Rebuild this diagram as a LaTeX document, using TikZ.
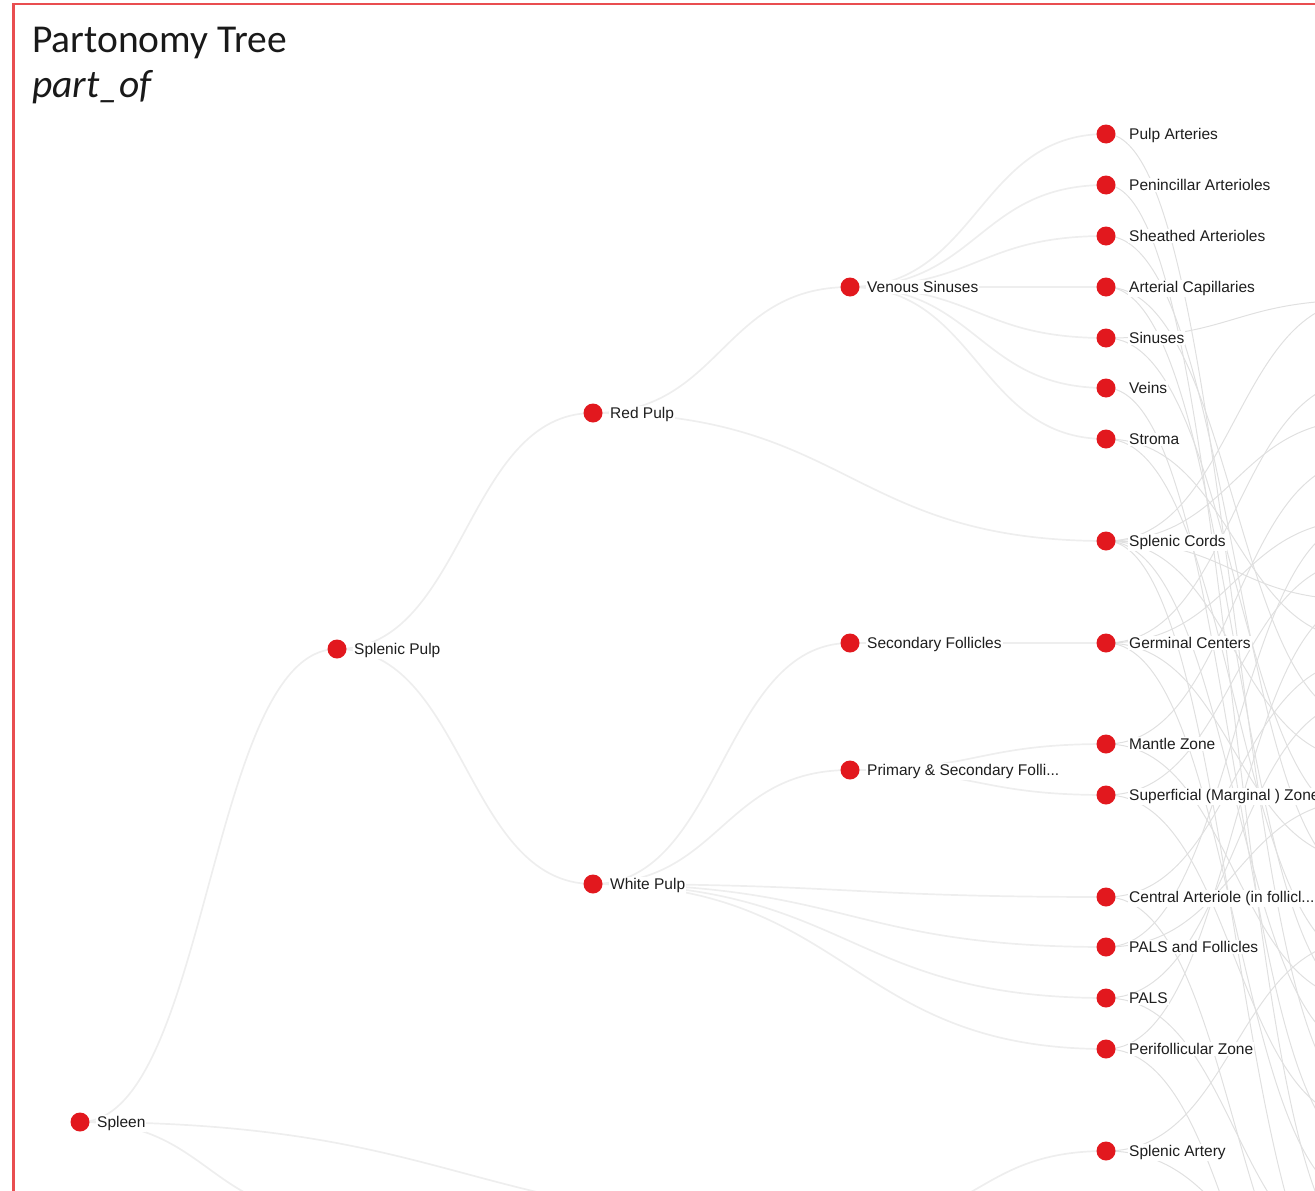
\documentclass[tikz,border=0pt]{standalone}
\usepackage{fontspec}
\setmainfont{Liberation Sans}
\newfontfamily\titlefont{Carlito}
\usetikzlibrary{calc,backgrounds}
\definecolor{nodered}{RGB}{226,24,30}
\definecolor{framered}{RGB}{233,78,80}
\definecolor{edgegray}{RGB}{238,238,238}
\definecolor{meshgray}{RGB}{224,224,224}
\definecolor{labgray}{RGB}{30,30,30}
\newcommand\lnk[3][edge]{\draw[#1] let \p1=(#2), \p2=(#3) in (\p1) .. controls ({(\x1+\x2)/2},\y1) and ({(\x1+\x2)/2},\y2) .. (\p2);}
\begin{document}
\begin{tikzpicture}[x=1pt,y=-1pt,
  dot/.style={circle,fill=nodered,inner sep=0pt,minimum size=19pt},
  lab/.style={anchor=base west,font=\fontsize{15.5}{18}\selectfont,text=labgray,fill=white,inner sep=1pt},
  edge/.style={draw=edgegray,line width=1.7pt},
  mesh/.style={draw=meshgray,line width=1pt},
  ttl/.style={anchor=base west,inner sep=0pt,text=black!90}]
\useasboundingbox (0,0) rectangle (1315,1191);
\clip (0,0) rectangle (1315,1191);
\draw[framered,line width=2.5pt] (13.5,1200) -- (13.5,4) -- (1330,4);

\node[ttl,font=\titlefont\fontsize{39.5}{44}\selectfont] (title) at (32,52) {Partonomy Tree};
\node[ttl,font=\titlefont\itshape\fontsize{39.5}{44}\selectfont] (sub) at (32,97) {part\_of};

% nodes
\node[dot] (SPL) at (80,1122) {};
\node[dot] (SP) at (337,649) {};
\node[dot] (RP) at (593,413) {};
\node[dot] (WP) at (593,884) {};
\node[dot] (VS) at (850,287) {};
\node[dot] (SF) at (850,643) {};
\node[dot] (PSF) at (850,770) {};
\node[dot] (PA) at (1106,134) {};
\node[dot] (PenA) at (1106,185) {};
\node[dot] (ShA) at (1106,236) {};
\node[dot] (AC) at (1106,287) {};
\node[dot] (Sin) at (1106,338) {};
\node[dot] (Veins) at (1106,388) {};
\node[dot] (Stroma) at (1106,439) {};
\node[dot] (SC) at (1106,541) {};
\node[dot] (GC) at (1106,643) {};
\node[dot] (MZ) at (1106,744) {};
\node[dot] (SMZ) at (1106,795) {};
\node[dot] (CA) at (1106,897) {};
\node[dot] (PF) at (1106,947) {};
\node[dot] (PALS) at (1106,998) {};
\node[dot] (PZ) at (1106,1049) {};
\node[dot] (SA) at (1106,1151) {};
\coordinate (X1) at (337,1215);
\coordinate (X2) at (850,1225);
\foreach \y in {300,380,420,460,520,560,600,640,660,700,720,760,800,820,860,880,940,960,1000,1050,1100,1120,1150,1200,1250,1260,1300,1320,1350,1420}
  \coordinate (R\y) at (1363,\y);

% labels
\node[lab] (SPLl) at (96,1127.5) {Spleen};
\node[lab] (SPl) at (353,654.5) {Splenic Pulp};
\node[lab] (RPl) at (609,418.5) {Red Pulp};
\node[lab] (WPl) at (609,889.5) {White Pulp};
\node[lab] (VSl) at (866,292.5) {Venous Sinuses};
\node[lab] (SFl) at (866,648.5) {Secondary Follicles};
\node[lab] (PSFl) at (866,775.5) {Primary \& Secondary Folli...};
\node[lab] (PAl) at (1128,139.5) {Pulp Arteries};
\node[lab] (PenAl) at (1128,190.5) {Penincillar Arterioles};
\node[lab] (ShAl) at (1128,241.5) {Sheathed Arterioles};
\node[lab] (ACl) at (1128,292.5) {Arterial Capillaries};
\node[lab] (Sinl) at (1128,343.5) {Sinuses};
\node[lab] (Veinsl) at (1128,393.5) {Veins};
\node[lab] (Stromal) at (1128,444.5) {Stroma};
\node[lab] (SCl) at (1128,546.5) {Splenic Cords};
\node[lab] (GCl) at (1128,648.5) {Germinal Centers};
\node[lab] (MZl) at (1128,749.5) {Mantle Zone};
\node[lab] (SMZl) at (1128,800.5) {Superficial (Marginal ) Zone};
\node[lab] (CAl) at (1128,902.5) {Central Arteriole (in follicl...};
\node[lab] (PFl) at (1128,952.5) {PALS and Follicles};
\node[lab] (PALSl) at (1128,1003.5) {PALS};
\node[lab] (PZl) at (1128,1054.5) {Perifollicular Zone};
\node[lab] (SAl) at (1128,1156.5) {Splenic Artery};

\begin{scope}[on background layer]
% mesh to offscreen column
\foreach \a/\b in {PA/R1100,PenA/R1250,ShA/R880,AC/R1000,AC/R720,Sin/R300,Sin/R820,Veins/R1150,Stroma/R960,Stroma/R640,
  SC/R300,SC/R420,SC/R600,SC/R760,SC/R1050,SC/R1320,GC/R380,GC/R520,GC/R860,GC/R1200,MZ/R460,MZ/R1000,
  SMZ/R560,SMZ/R1120,CA/R660,CA/R1350,PF/R520,PF/R800,PALS/R700,PALS/R1260,PZ/R600,PZ/R1420,SA/R940,SA/R1300}
  {\lnk[mesh]{\a}{\b}}
% tree edges
\lnk{SPL}{SP}
\lnk{SPL}{X1}
\lnk{SPL}{X2}
\lnk{SP}{RP}
\lnk{SP}{WP}
\lnk{RP}{VS}
\lnk{RP}{SC}
\foreach \b in {PA,PenA,ShA,AC,Sin,Veins,Stroma} {\lnk{VS}{\b}}
\lnk{WP}{SF}
\lnk{WP}{PSF}
\lnk{SF}{GC}
\lnk{PSF}{MZ}
\lnk{PSF}{SMZ}
\foreach \b in {CA,PF,PALS,PZ} {\lnk{WP}{\b}}
\lnk{X2}{SA}
\end{scope}
\end{tikzpicture}
\end{document}
